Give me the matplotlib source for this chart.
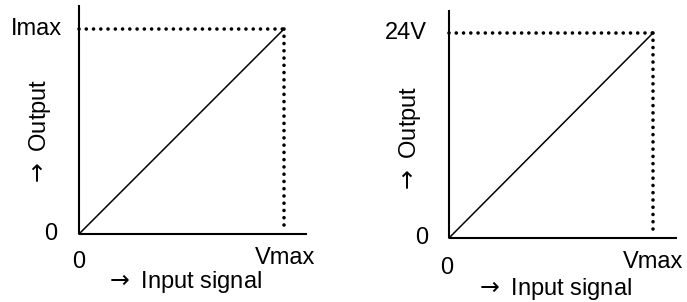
import matplotlib
matplotlib.use("Agg")
import matplotlib.pyplot as plt
from matplotlib.transforms import offset_copy

plt.rcParams['font.family'] = ['Liberation Sans', 'DejaVu Sans']

# Data
input_signal = [0.0, 1.0]          # 0 .. Vmax
output_signal = [0.0, 1.0]         # 0 .. max output
x_tick_labels = ["0", "Vmax"]
left_y_labels = ["0", "Imax"]
right_y_labels = ["0", "24V"]
x_label = r"$\rightarrow$ Input signal"
y_label = r"$\rightarrow$ Output"

FS = 17
W, H = 687, 302
fig = plt.figure(figsize=(W / 100, H / 100), dpi=100)

def px_axes(x0, x1, y_bottom, y_top):
    return fig.add_axes([x0 / W, (H - y_bottom) / H, (x1 - x0) / W, (y_bottom - y_top) / H])

def draw_panel(ax, xlim, ylim, ylabels, ytick_offsets, xtick_offsets, xlab_pos, ylab_pos):
    ax.set_xlim(0, xlim)
    ax.set_ylim(0, ylim)
    for s in ['top', 'right']:
        ax.spines[s].set_visible(False)
    for s in ['left', 'bottom']:
        ax.spines[s].set_linewidth(1.5)
        ax.spines[s].set_capstyle('butt')
    ax.set_xticks([])
    ax.set_yticks([])
    ax.patch.set_alpha(0)
    # characteristic line
    ax.plot(input_signal, output_signal, color='black', lw=1.1, clip_on=False)
    xm, ym = input_signal[-1], output_signal[-1]
    # dotted guides
    ax.plot([0, xm], [ym, ym], color='black', lw=2.6, linestyle=(0, (0.01, 2.0)),
            dash_capstyle='round', clip_on=False)
    ax.plot([xm, xm], [ym, 0.03], color='black', lw=2.6, linestyle=(0, (0.01, 2.0)),
            dash_capstyle='round', clip_on=False)
    # y tick labels
    for val, lab, (dx, dy) in zip(output_signal, ylabels, ytick_offsets):
        tr = offset_copy(ax.transData, fig=fig, x=dx, y=dy, units='dots')
        ax.text(0, val, lab, transform=tr, ha='right', va='center', fontsize=FS, clip_on=False)
    # x tick labels
    for val, lab, (dx, dy) in zip(input_signal, x_tick_labels, xtick_offsets):
        tr = offset_copy(ax.transData, fig=fig, x=dx, y=dy, units='dots')
        ax.text(val, 0, lab, transform=tr, ha='center', va='center', fontsize=FS, clip_on=False)
    fig.text(xlab_pos[0] / W, 1 - xlab_pos[1] / H, x_label, ha='center', va='center', fontsize=FS)
    fig.text(ylab_pos[0] / W, 1 - ylab_pos[1] / H, y_label, ha='center', va='center',
             fontsize=FS, rotation=90)

axL = px_axes(79, 307, 234, 5)
draw_panel(axL, 228 / 205, 229 / 205, left_y_labels,
           [(-22, 0), (-17, 0)], [(0, -28), (1, -24)], (183, 282), (40, 133))

axR = px_axes(449, 677, 238, 10)
draw_panel(axR, 228 / 204, 228 / 205, right_y_labels,
           [(-21, 0), (-22, 0)], [(-2, -30), (0, -24)], (553, 289), (410, 140))

fig.savefig("out.png", dpi=100)
